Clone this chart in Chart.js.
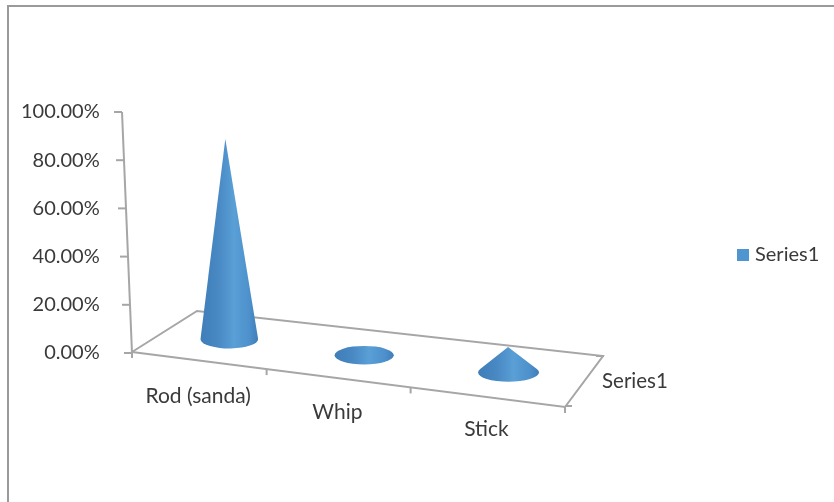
<!DOCTYPE html>
<html>
<head>
<meta charset="utf-8">
<style>
    html, body { margin: 0; padding: 0; background: #fff; }
    canvas { display: block; }
</style>
</head>
<body>
<canvas id="chart" width="834" height="502"></canvas>
<script src="https://cdn.jsdelivr.net/npm/chart.js"></script>
<script>
const categories = ['Rod (sanda)', 'Whip', 'Stick'];
const seriesName = 'Series1';
const seriesValues = [83, 2, 10.5];
const axisMin = 0;
const axisMax = 100;
const axisStep = 20;

const FONT = 'Lato, "Open Sans", sans-serif';
const TEXT = '#3a3a3a';
const LINE = '#a6a6a6';

// floor of the 3D box, in pixels
const FL = [132, 352], FR = [565, 407], BR = [603, 356], BL = [197, 311];
const AXIS_TOP_X = 122;
const PERSPECTIVE = -0.0977;

function warp(t) { return t * (1 + PERSPECTIVE) / (1 + PERSPECTIVE * t); }
function lerp(a, b, t) { return a + (b - a) * t; }

function floorPoint(t, depth) {
    const w = warp(t);
    const fx = lerp(FL[0], FR[0], w), fy = lerp(FL[1], FR[1], w);
    const bx = lerp(BL[0], BR[0], w), by = lerp(BL[1], BR[1], w);
    return [lerp(fx, bx, depth), lerp(fy, by, depth)];
}

function seg(ctx, x1, y1, x2, y2) {
    ctx.beginPath();
    ctx.moveTo(x1, y1);
    ctx.lineTo(x2, y2);
    ctx.stroke();
}

function drawCone(ctx, cx, cy, rx, ry, h) {
    const tipX = cx - h * 0.02, tipY = cy - h;
    const nx = (tipX - cx) / rx, ny = (tipY - cy) / ry;
    const d = Math.hypot(nx, ny);

    const grad = ctx.createLinearGradient(cx - rx, 0, cx + rx, 0);
    grad.addColorStop(0, '#3f7eb8');
    grad.addColorStop(0.3, '#4888c3');
    grad.addColorStop(0.58, '#5a9fd6');
    grad.addColorStop(0.85, '#4d90cc');
    grad.addColorStop(1, '#3f7eb8');

    ctx.save();
    ctx.fillStyle = grad;
    ctx.beginPath();
    if (d <= 1) {
        ctx.ellipse(cx, cy, rx, ry, 0, 0, Math.PI * 2);
    } else {
        const phi = Math.atan2(ny, nx), alpha = Math.acos(1 / d);
        ctx.moveTo(tipX, tipY);
        ctx.ellipse(cx, cy, rx, ry, 0, phi + alpha, phi - alpha + Math.PI * 2);
        ctx.closePath();
    }
    ctx.fill();
    ctx.restore();
}

const conePlugin = {
    id: 'cone3d',
    afterLayout(chart) {
        // legend sits right of the box, not centred on the plot
        const lg = chart.legend;
        lg.left = 731;
        lg.right = 834;
        lg.top = 233;
        lg.bottom = 277;
    },
    beforeDraw(chart) {
        const ctx = chart.ctx;
        // picture frame
        ctx.save();
        ctx.fillStyle = '#9a9a9a';
        ctx.fillRect(7, 5, 827, 2);
        ctx.fillRect(7, 5, 2, 497);
        ctx.restore();
    },
    beforeDatasetDraw(chart, args) {
        const ctx = chart.ctx;
        const area = chart.chartArea;
        const yScale = chart.scales.y;
        const xScale = chart.scales.x;
        const y0 = yScale.getPixelForValue(axisMin);
        const y100 = yScale.getPixelForValue(axisMax);

        ctx.save();
        ctx.strokeStyle = LINE;
        ctx.lineWidth = 2;

        // floor
        ctx.beginPath();
        ctx.moveTo(FL[0], FL[1]);
        ctx.lineTo(FR[0], FR[1]);
        ctx.lineTo(BR[0], BR[1]);
        ctx.lineTo(BL[0], BL[1]);
        ctx.closePath();
        ctx.stroke();

        // value axis leans with the box
        seg(ctx, AXIS_TOP_X, y100, FL[0], y0);
        yScale.ticks.forEach(t => {
            const py = yScale.getPixelForValue(t.value);
            const px = lerp(FL[0], AXIS_TOP_X, (y0 - py) / (y0 - y100));
            seg(ctx, px - 8, py, px, py);
        });

        // category ticks on front edge
        for (let i = 0; i <= categories.length; i++) {
            const p = floorPoint(i / categories.length, 0);
            seg(ctx, p[0], p[1], p[0], p[1] + 6);
        }

        // series axis ticks
        seg(ctx, FR[0], FR[1] - 1, FR[0] + 7, FR[1] - 1);
        seg(ctx, BR[0] - 7, BR[1], BR[0] + 1, BR[1]);
        ctx.restore();

        // cones, one per bar element, bases grow a little towards the right
        const meta = chart.getDatasetMeta(args.index);
        meta.data.forEach(bar => {
            const t = (bar.x - area.left) / (area.right - area.left);
            const p = floorPoint(t, 0.5);
            drawCone(ctx, p[0] + 0.7, p[1], 28.4 + 2.5 * warp(t), 9.3, bar.base - bar.y);
        });

        // labels follow the slanted front edge
        ctx.save();
        ctx.fillStyle = TEXT;
        ctx.font = '21px ' + FONT;
        ctx.textAlign = 'center';
        ctx.textBaseline = 'middle';
        meta.data.forEach((bar, i) => {
            const t = (bar.x - area.left) / (area.right - area.left);
            const p = floorPoint(t, 0);
            ctx.fillText(xScale.getLabelForValue(i), p[0], p[1] + 37 - 5.6 * warp(t));
        });
        ctx.font = '20.5px ' + FONT;
        ctx.textAlign = 'left';
        ctx.fillText(seriesName, 602, 381);
        ctx.restore();
        return false;
    }
};

// small square marker, so the gap before the legend text can stay tight
const marker = document.createElement('canvas');
marker.width = 12;
marker.height = 12;
const mctx = marker.getContext('2d');
mctx.fillStyle = '#4f95d0';
mctx.fillRect(0, 0, 12, 12);

new Chart(document.getElementById('chart'), {
    type: 'bar',
    data: {
        labels: categories,
        datasets: [{
            label: seriesName,
            data: seriesValues,
            backgroundColor: '#4f95d0',
            pointStyle: marker
        }]
    },
    options: {
        responsive: false,
        animation: false,
        layout: { padding: { left: 17, right: 271, top: 112, bottom: 149 } },
        scales: {
            x: {
                grid: { display: false, drawTicks: false },
                border: { display: false },
                ticks: { display: false, padding: 0 }
            },
            y: {
                min: axisMin,
                max: axisMax,
                grid: { display: false, drawTicks: false },
                border: { display: false },
                ticks: {
                    stepSize: axisStep,
                    padding: 4,
                    color: TEXT,
                    font: { family: FONT, size: 20 },
                    callback: v => v.toFixed(2) + '%'
                }
            }
        },
        plugins: {
            tooltip: { enabled: false },
            legend: {
                position: 'chartArea',
                labels: {
                    usePointStyle: true,
                    pointStyleWidth: 4,
                    color: TEXT,
                    font: { family: FONT, size: 20 }
                }
            }
        }
    },
    plugins: [conePlugin]
});
</script>
</body>
</html>
